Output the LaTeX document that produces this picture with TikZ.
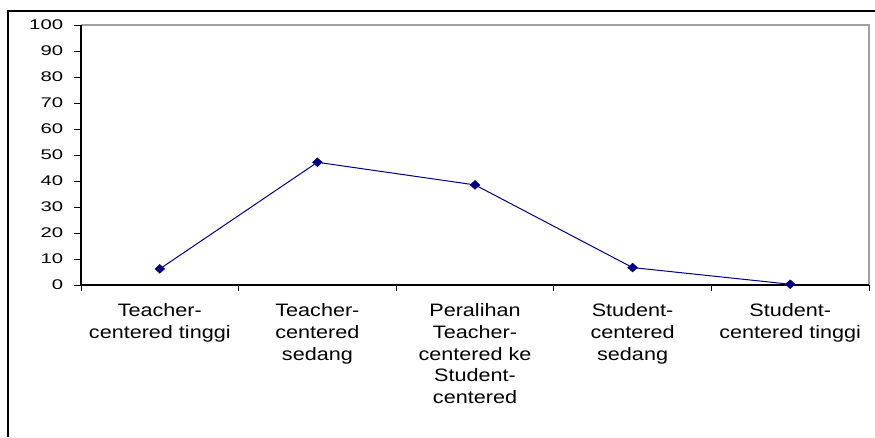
\documentclass[tikz,border=0pt]{standalone}
\usepackage{fontspec}
\setmainfont{Liberation Sans}
\newfontfamily\catfont{Liberation Sans}[FakeStretch=1.2]
\newfontfamily\yfont{Liberation Sans}[FakeStretch=1.45]
\usetikzlibrary{shapes.geometric}
\definecolor{serie}{HTML}{000080}
\definecolor{plotgray}{HTML}{A0A0A0}
\begin{document}
\begin{tikzpicture}[x=1pt,y=-1pt,
  frame/.style={draw=black,line width=1.3pt},
  axis/.style={draw=black,line width=1.1pt},
  grayborder/.style={draw=plotgray,line width=1.3pt},
  tickline/.style={draw=black,line width=1pt},
  ylab/.style={anchor=east,inner sep=0pt,font=\yfont\fontsize{14}{16}\selectfont},
  catlab/.style={anchor=north,inner sep=0pt,align=center,font=\catfont\fontsize{18}{21.67}\selectfont},
  marker/.style={diamond,fill=serie,draw=serie,inner sep=0pt,minimum width=10pt,minimum height=9pt},
  serieline/.style={draw=serie,line width=1pt}]
\useasboundingbox (0,0) rectangle (875,437);
% outer frame
\coordinate (fbl) at (8,437);
\coordinate (ftl) at (8,11);
\coordinate (ftr) at (875,11);
\draw[frame] (fbl) -- (ftl) -- (ftr);
% plot area
\coordinate (o) at (81,285);
\coordinate (tl) at (81,25);
\coordinate (tr) at (869,25);
\coordinate (br) at (869,285);
\draw[grayborder] (tl) -- (tr) -- (br);
\draw[axis] (tl) -- (o) -- (br);
% y ticks and labels
\foreach \v in {0,10,...,100}{
  \coordinate (yt\v) at (81,285-2.6*\v);
  \coordinate (ytl\v) at (74,285-2.6*\v);
  \draw[tickline] (ytl\v) -- (yt\v);
  \node[ylab] (yl\v) at (63.3,285-2.6*\v) {\v};
}
% x ticks
\foreach \i in {0,...,5}{
  \coordinate (xt\i) at (81+157.6*\i,285);
  \coordinate (xtb\i) at (81+157.6*\i,291);
  \draw[tickline] (xt\i) -- (xtb\i);
}
% category labels
\node[catlab] (c1) at (159.8,303.6) {Teacher-\\centered tinggi};
\node[catlab] (c2) at (317.4,303.6) {Teacher-\\centered\\sedang};
\node[catlab] (c3) at (475,303.6) {Peralihan\\Teacher-\\centered ke\\Student-\\centered};
\node[catlab] (c4) at (632.6,303.6) {Student-\\centered\\sedang};
\node[catlab] (c5) at (790.2,303.6) {Student-\\centered tinggi};
% data
\node[marker] (p1) at (159.8,285-2.6*6.2) {};
\node[marker] (p2) at (317.4,285-2.6*47.2) {};
\node[marker] (p3) at (475,285-2.6*38.5) {};
\node[marker] (p4) at (632.6,285-2.6*6.7) {};
\node[marker] (p5) at (790.2,285-2.6*0.3) {};
\draw[serieline] (p1) -- (p2) -- (p3) -- (p4) -- (p5);
\end{tikzpicture}
\end{document}
